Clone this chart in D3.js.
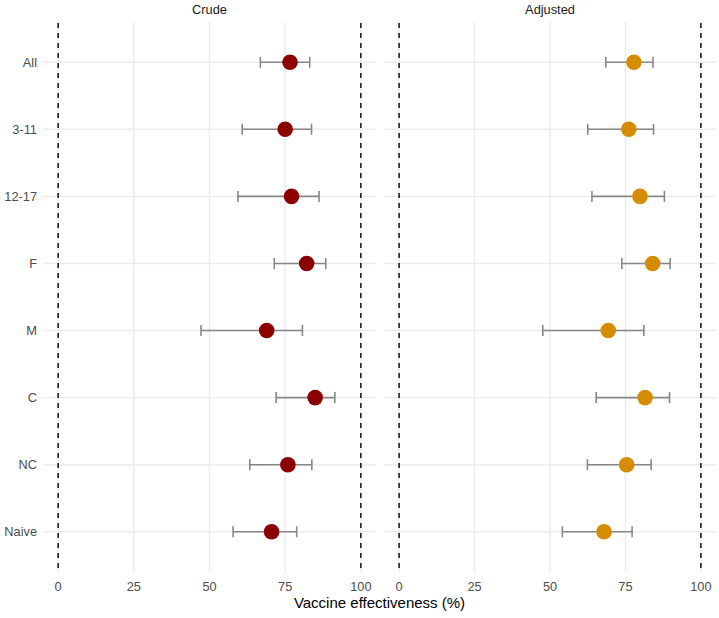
<!DOCTYPE html>
<html>
<head>
<meta charset="utf-8">
<script src="https://cdn.jsdelivr.net/npm/d3@7"></script>
<style>
  body { margin: 0; background: #fff; }
  svg { display: block; font-family: "Liberation Sans", Arial, sans-serif; }
</style>
</head>
<body>
<svg id="chart" width="719" height="618"></svg>
<script>
const categories = ["All", "3-11", "12-17", "F", "M", "C", "NC", "Naive"];
const panels = ["Crude", "Adjusted"];
const crudeEst   = [76.6, 75.0, 77.1, 82.1, 68.9, 84.9, 75.9, 70.5];
const crudeLow   = [66.8, 60.8, 59.4, 71.4, 47.2, 72.0, 63.3, 57.8];
const crudeHigh  = [83.1, 83.7, 86.2, 88.4, 80.7, 91.4, 83.8, 78.8];
const adjEst     = [77.8, 76.1, 79.8, 84.0, 69.3, 81.5, 75.4, 67.9];
const adjLow     = [68.5, 62.5, 63.9, 73.8, 47.6, 65.3, 62.4, 54.1];
const adjHigh    = [84.1, 84.3, 87.9, 89.8, 81.1, 89.6, 83.5, 77.2];
const xTicks = [0, 25, 50, 75, 100];
const refLines = [0, 100];
const colors = ["#8b0000", "#d68b05"];

const series = [
  { name: panels[0], est: crudeEst, lo: crudeLow, hi: crudeHigh, color: colors[0] },
  { name: panels[1], est: adjEst, lo: adjLow, hi: adjHigh, color: colors[1] }
];

const svg = d3.select("#chart");
const panelTop = 22, panelBottom = 572;
const panelX = [[43, 376], [384, 716]];

const y = d3.scalePoint().domain(categories).range([panelTop, panelBottom]).padding(0.6);

series.forEach((s, pi) => {
  const [x0, x1] = panelX[pi];
  const x = d3.scaleLinear().domain([-5, 105]).range([x0, x1]);
  const g = svg.append("g");

  g.selectAll(".vg").data(xTicks).join("line")
    .attr("x1", d => x(d)).attr("x2", d => x(d))
    .attr("y1", panelTop).attr("y2", panelBottom)
    .attr("stroke", "#ebebeb").attr("stroke-width", 1.4);
  g.selectAll(".hg").data(categories).join("line")
    .attr("x1", x0).attr("x2", x1)
    .attr("y1", d => y(d)).attr("y2", d => y(d))
    .attr("stroke", "#ebebeb").attr("stroke-width", 1.4);

  g.selectAll(".ref").data(refLines).join("line")
    .attr("x1", d => x(d)).attr("x2", d => x(d))
    .attr("y1", panelTop).attr("y2", panelBottom)
    .attr("stroke", "#000").attr("stroke-width", 1.4)
    .attr("stroke-dasharray", "5,5")
    .attr("stroke-dashoffset", -1);

  const rows = categories.map((c, i) => ({ c, est: s.est[i], lo: s.lo[i], hi: s.hi[i] }));

  const eb = g.selectAll(".eb").data(rows).join("g");
  eb.append("line")
    .attr("x1", d => x(d.lo)).attr("x2", d => x(d.hi))
    .attr("y1", d => y(d.c)).attr("y2", d => y(d.c))
    .attr("stroke", "#878787").attr("stroke-width", 1.6);
  eb.append("line")
    .attr("x1", d => x(d.lo)).attr("x2", d => x(d.lo))
    .attr("y1", d => y(d.c) - 5.5).attr("y2", d => y(d.c) + 5.5)
    .attr("stroke", "#878787").attr("stroke-width", 1.6);
  eb.append("line")
    .attr("x1", d => x(d.hi)).attr("x2", d => x(d.hi))
    .attr("y1", d => y(d.c) - 5.5).attr("y2", d => y(d.c) + 5.5)
    .attr("stroke", "#878787").attr("stroke-width", 1.6);

  g.selectAll(".pt").data(rows).join("circle")
    .attr("cx", d => x(d.est)).attr("cy", d => y(d.c))
    .attr("r", 7.8).attr("fill", s.color);

  g.selectAll(".xl").data(xTicks).join("text")
    .attr("x", d => x(d)).attr("y", 590.5)
    .attr("text-anchor", "middle")
    .attr("font-size", 12.8).attr("fill", "#4d4d4d")
    .text(d => d);

  g.append("text")
    .attr("x", (x0 + x1) / 2).attr("y", 13.5)
    .attr("text-anchor", "middle")
    .attr("font-size", 12.8).attr("fill", "#1a1a1a")
    .text(s.name);
});

svg.selectAll(".yl").data(categories).join("text")
  .attr("x", 37).attr("y", d => y(d) + 4.5)
  .attr("text-anchor", "end")
  .attr("font-size", 12.8).attr("fill", "#4d4d4d")
  .text(d => d);

svg.append("text")
  .attr("x", (panelX[0][0] + panelX[1][1]) / 2).attr("y", 608)
  .attr("text-anchor", "middle")
  .attr("font-size", 15).attr("fill", "#000")
  .text("Vaccine effectiveness (%)");
</script>
</body>
</html>
